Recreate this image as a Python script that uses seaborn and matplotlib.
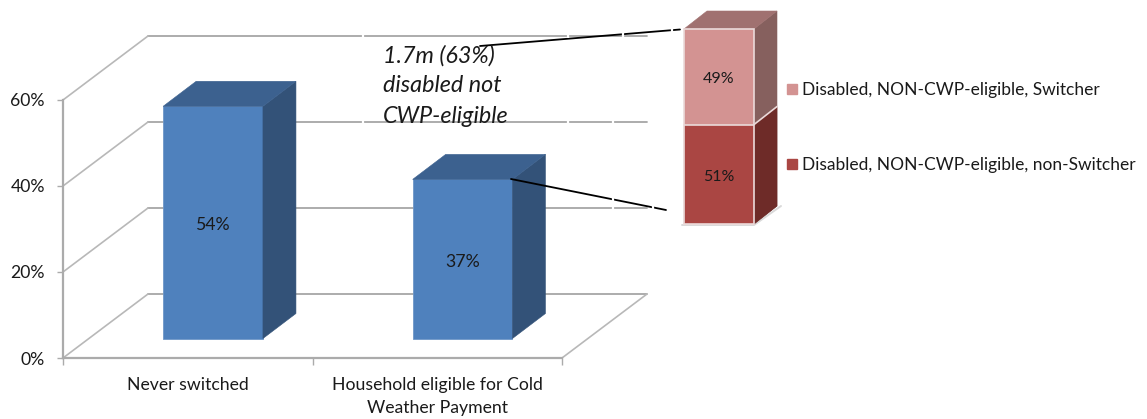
import matplotlib
matplotlib.use("Agg")
import matplotlib.pyplot as plt
from matplotlib.patches import Polygon, Patch
from matplotlib.transforms import Affine2D
import seaborn as sns

# ---------- data ----------
categories = ["Never switched", "Household eligible for Cold\nWeather Payment"]
shares = [54, 37]
value_ticks = [0, 20, 40, 60]
value_tick_labels = ["0%", "20%", "40%", "60%"]
breakdown_names = ["Disabled, NON-CWP-eligible, Switcher", "Disabled, NON-CWP-eligible, non-Switcher"]
breakdown_upper = 49
breakdown_lower = 51
callout_lines = ["1.7m (63%)", "disabled not", "CWP-eligible"]

# ---------- styles ----------
W, H, DPI = 1147, 419, 100
FONT = "Lato"
TXT = "#1A1A1A"
BLUE = ("#4F81BD", "#3C618F", "#335278")
PINK = ("#D39392", "#A07170", "#86605E")
RED = ("#AA4643", "#A07170", "#6E2B28")
GRID = "#A6A6A6"
DIAG = "#B8B8B8"
WALL = (85, 64)     # depth of the plot box, pixels
BAR_D = (33, 25)    # depth of a main bar
STACK_D = (23, 18)  # depth of the stacked bar

sns.set_theme(style="white")
plt.rcParams["font.family"] = [FONT, "DejaVu Sans"]
fig = plt.figure(figsize=(W / DPI, H / DPI), dpi=DPI, facecolor="white")


def rect(l, t, r, b):
    return [l / W, 1 - b / H, (r - l) / W, (b - t) / H]


ax = fig.add_axes(rect(63, 100, 562, 358))
ax.patch.set_alpha(0)


def shifted(axis, dx, dy):
    return axis.transData + Affine2D().translate(dx, dy)


# main bars through seaborn, then moved into the middle of the box depth
sns.barplot(x=list(range(len(shares))), y=shares, order=[0, 1], color=BLUE[0], saturation=1,
            width=0.4, ax=ax, zorder=3, edgecolor="#6F97C8", linewidth=0.6)
ax.set_xlim(-0.5, 1.5)
ax.set_ylim(0, 60)

# box: back wall grid, side wall and floor
for v in value_ticks:
    ax.plot([-0.5, 1.5], [v, v], color=GRID, lw=1.3, zorder=1, clip_on=False,
            transform=shifted(ax, WALL[0], WALL[1]))
    p0 = ax.transData.transform((-0.5, v))
    ax.plot([p0[0], p0[0] + WALL[0]], [p0[1], p0[1] + WALL[1]], color=DIAG, lw=1.2,
            zorder=1, clip_on=False, transform=None)
p0 = ax.transData.transform((1.5, 0))
ax.plot([p0[0], p0[0] + WALL[0]], [p0[1], p0[1] + WALL[1]], color=DIAG, lw=1.2,
        zorder=1, clip_on=False, transform=None)


def box_3d(axis, patch, cols, depth, off=(0, 0), z=3, with_top=True):
    """Shift a bar patch and add its top and side faces from its own geometry."""
    x0, x1 = patch.get_x(), patch.get_x() + patch.get_width()
    y0, y1 = patch.get_y(), patch.get_y() + patch.get_height()
    tr = shifted(axis, *off)
    a = tr.transform([(x0, y1), (x1, y1), (x1, y0)])
    d = depth
    faces = [([a[1], a[1] + d, a[2] + d, a[2]], cols[2])]
    if with_top:
        faces.append(([a[0], a[1], a[1] + d, a[0] + d], cols[1]))
    patch.set_transform(tr)
    patch.set_clip_on(False)
    for pts, c in faces:
        axis.add_patch(Polygon(pts, closed=True, facecolor=c, edgecolor=c, lw=0.4,
                               transform=None, clip_on=False, zorder=z))
    return a, d


off = (25.3, 19.5)
for patch, v, i in zip(ax.patches[:len(shares)], shares, range(len(shares))):
    box_3d(ax, patch, BLUE, BAR_D, off)
    ax.text(i, v / 2, f"{v}%", transform=shifted(ax, off[0], off[1] - 3), ha="center", va="center",
            fontsize=12.7, color=TXT, zorder=5)

# axes furniture
for s in ("top", "right"):
    ax.spines[s].set_visible(False)
for s in ("left", "bottom"):
    ax.spines[s].set_color("#ABABAB")
    ax.spines[s].set_linewidth(1.6)
ax.set_yticks(value_ticks, value_tick_labels, fontsize=12.7, color=TXT)
ax.set_xticks([-0.5, 0.5, 1.5], ["", "", ""])
ax.set_xticks([0, 1], categories, minor=True, fontsize=12.7, color=TXT)
ax.tick_params(axis="y", length=4, width=1, color="#ABABAB", pad=9, left=True)
ax.tick_params(axis="x", which="major", length=5, width=1, color="#ABABAB", bottom=True)
ax.tick_params(axis="x", which="minor", length=0, pad=14)
for lab in ax.get_xticklabels(minor=True):
    lab.set_linespacing(1.5)
ax.set_xlabel("")
ax.set_ylabel("")

# stacked breakdown bar
ax2 = fig.add_axes(rect(684, 29, 754, 224))
ax2.patch.set_alpha(0)
sns.barplot(x=[0], y=[breakdown_lower + breakdown_upper], color=PINK[0], saturation=1, width=1,
            ax=ax2, edgecolor="#EBDADA", linewidth=1.2, zorder=3)
sns.barplot(x=[0], y=[breakdown_lower], color=RED[0], saturation=1, width=1,
            ax=ax2, edgecolor="#EBDADA", linewidth=1.2, zorder=4)
ax2.set_xlim(-0.5, 0.5)
ax2.set_ylim(0, 100)
ax2.axis("off")
upper_patch, lower_patch = ax2.patches[0], ax2.patches[1]
box_3d(ax2, upper_patch, PINK, STACK_D, z=2)
a, d = box_3d(ax2, lower_patch, RED, STACK_D, z=3, with_top=False)
# light seam between the two side faces and faint floor under the stack
ax2.plot([a[1][0], a[1][0] + d[0]], [a[1][1], a[1][1] + d[1]], color="#EBDADA", lw=1.2,
         transform=None, clip_on=False, zorder=5)
ax2.plot([a[2][0] - 72, a[2][0], a[2][0] + d[0] + 4], [a[2][1] - 1, a[2][1] - 1, a[2][1] + d[1]],
         color="#D9D9D9", lw=1.4, transform=None, clip_on=False, zorder=1)
label_tr = shifted(ax2, 0, -2.5)
ax2.text(0, breakdown_lower + breakdown_upper / 2, f"{breakdown_upper}%", ha="center", va="center",
         fontsize=11.5, color=TXT, zorder=6, transform=label_tr)
ax2.text(0, breakdown_lower / 2, f"{breakdown_lower}%", ha="center", va="center",
         fontsize=11.5, color=TXT, zorder=6, transform=label_tr)

# legend
fig.legend(handles=[Patch(color=PINK[0]), Patch(color=RED[0])], labels=breakdown_names,
           loc="upper left", bbox_to_anchor=(787 / W, 1 - 82 / H), frameon=False, borderpad=0,
           borderaxespad=0, fontsize=12.5, handlelength=0.55, handleheight=0.55, handletextpad=0.33,
           labelspacing=3.4, labelcolor=TXT)

# overlay in pixel space for the call-out text and leader lines
ov = fig.add_axes([0, 0, 1, 1], zorder=10)
ov.set_xlim(0, W)
ov.set_ylim(H, 0)
ov.axis("off")
ov.patch.set_alpha(0)
for line, y in zip(callout_lines, (56, 86, 116)):
    ov.text(383, y, line, style="italic", fontsize=16.8, color=TXT, va="center", ha="left")
ov.plot([480, 680], [46, 29.5], color="black", lw=1.3)
ov.plot([511, 666], [179, 210], color="black", lw=1.3)
# thin white breaks that run through the lines in the original picture
for x, y in [(363, 35), (363, 121), (568, 35), (568, 121), (613, 121), (613, 207),
             (623, 34.5), (672, 30), (613, 200), (653, 207.5)]:
    ov.plot([x, x], [y - 3, y + 3], color="white", lw=1.6, solid_capstyle="butt")

fig.savefig("out.png", dpi=DPI, facecolor="white")
